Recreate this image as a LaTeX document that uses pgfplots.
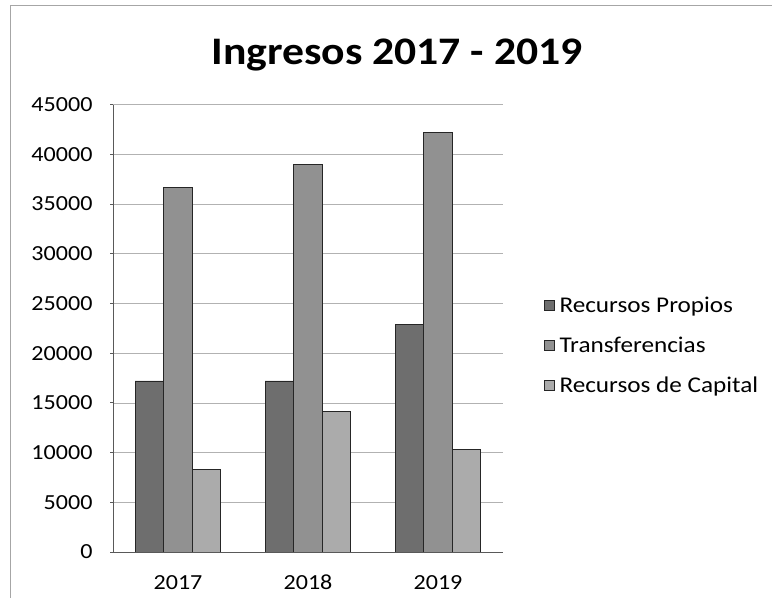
\documentclass[border=0pt]{standalone}
\usepackage{fontspec}
\setmainfont[FakeStretch=1.12]{Carlito}
\usepackage{pgfplots}
\pgfplotsset{compat=1.18}
\definecolor{cProp}{gray}{0.43}
\definecolor{cTrans}{gray}{0.57}
\definecolor{cCap}{gray}{0.67}
\begin{document}
\begin{tikzpicture}[x=1bp,y=1bp]
\useasboundingbox (0,0) rectangle (772,598);
% outer chart frame (left and top edges visible)
\draw[gray!70,line width=0.8bp] (10.5,0) -- (10.5,593) -- (772,593);
\node[anchor=base,font=\fontsize{39bp}{45bp}\selectfont\bfseries] at (397,533) {Ingresos 2017 - 2019};
\begin{axis}[
  at={(113bp,46bp)}, anchor=south west,
  scale only axis, width=390bp, height=447.4bp,
  ybar=0pt, bar width=0.22,
  xmin=-0.5, xmax=2.5, ymin=0, ymax=45000,
  xtick={0,1,2}, xticklabels={2017,2018,2019},
  ytick distance=5000,
  scaled y ticks=false,
  /pgf/number format/fixed,
  /pgf/number format/1000 sep={},
  /pgf/number format/assume math mode=true,
  ticklabel style={font=\fontsize{21.5bp}{25bp}\selectfont},
  axis x line*=bottom, axis y line*=left,
  axis line style={gray!70!black,line width=0.8bp},
  x axis line style={-}, y axis line style={-},
  xtick style={draw=none},
  ytick style={gray!70!black,line width=0.8bp},
  tick align=outside, major tick length=3bp,
  ymajorgrids, grid style={gray!60,line width=0.6bp},
  yticklabel style={xshift=-14bp},
  xticklabel style={anchor=north, text height=14bp, text depth=0bp, inner ysep=0bp, yshift=-20bp},
  legend style={draw=none, fill=none, at={(axis description cs:1.098,0.461)}, anchor=west,
    font=\fontsize{22.5bp}{26bp}\selectfont, row sep=23bp,
    nodes={inner xsep=4.5bp, inner ysep=0bp, anchor=west}},
  legend cell align=left,
  legend image code/.code={\draw[#1,line width=0.6bp] (0bp,-5bp) rectangle (10bp,5bp);},
]
\addplot[fill=cProp, draw=black!85, line width=0.9bp] coordinates {(0,17200) (1,17200) (2,22900)};
\addplot[fill=cTrans, draw=black!85, line width=0.9bp] coordinates {(0,36700) (1,39000) (2,42200)};
\addplot[fill=cCap, draw=black!85, line width=0.9bp] coordinates {(0,8300) (1,14100) (2,10300)};
\legend{Recursos Propios, Transferencias, Recursos de Capital}
\end{axis}
\end{tikzpicture}
\end{document}
